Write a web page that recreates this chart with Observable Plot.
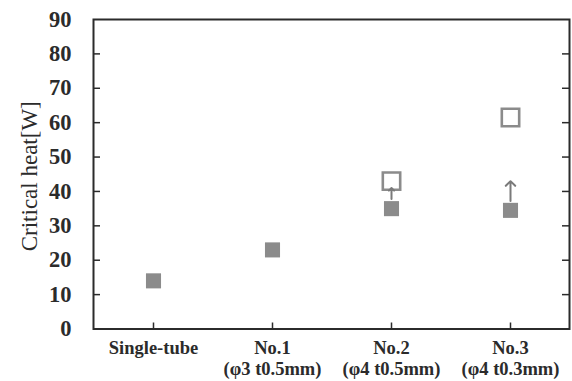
<!DOCTYPE html>
<html><head><meta charset="utf-8">
<script src="https://cdn.jsdelivr.net/npm/d3@7"></script>
<script src="https://cdn.jsdelivr.net/npm/@observablehq/plot@0.6"></script>
<style>body{margin:0;background:#fff}</style>
</head><body><div id="chart"></div>
<script>
const categories = ["Single-tube", "No.1", "No.2", "No.3"];
const categoryLabels = ["Single-tube", "No.1\n(φ3 t0.5mm)", "No.2\n(φ4 t0.5mm)", "No.3\n(φ4 t0.3mm)"];
const measuredCats = ["Single-tube", "No.1", "No.2", "No.3"];
const measuredVals = [14, 23, 35, 34.5];
const openCats = ["No.2", "No.3"];
const openVals = [43, 61.5];
const arrowCats = ["No.2", "No.3"];
const arrowFrom = [37.8, 37.2];
const arrowTo = [41, 43];
const yTicks = [0, 10, 20, 30, 40, 50, 60, 70, 80, 90];
const yTitle = ["Critical heat[W]"];

const W = 572, H = 381, mL = 93, mR = 3, mT = 19, mB = 52.5;
const pw = W - mL - mR, ph = H - mT - mB;
const gray = "#8b8b8b";
const dark = "#2b2b2b";

const measured = measuredCats.map((c, i) => ({c, v: measuredVals[i]}));
const open = openCats.map((c, i) => ({c, v: openVals[i]}));
const arrows = arrowCats.map((c, i) => ({c, a: arrowFrom[i], b: arrowTo[i]}));

const chart = Plot.plot({
  width: W, height: H,
  marginLeft: mL, marginRight: mR, marginTop: mT, marginBottom: mB,
  style: {fontFamily: "'Liberation Serif', serif", background: "#fff", color: dark},
  x: {type: "point", domain: categories, padding: 0.5},
  y: {domain: [0, 90]},
  marks: [
    Plot.axisY(yTicks, {tickSize: 0, tickPadding: 22, fontSize: 22.5, fontWeight: "bold", fill: dark, label: null}),
    Plot.text(yTitle, {text: d => d, frameAnchor: "left", textAnchor: "middle", rotate: -90, dx: -64, dy: 2, fontSize: 23, fill: dark}),
    Plot.axisX(categories, {tickSize: 0, tickPadding: 10, fontSize: 18.5, fontWeight: "bold", fill: dark,
      lineHeight: 1.15, label: null, tickFormat: (d) => categoryLabels[categories.indexOf(d)]}),
    Plot.tickY(yTicks.slice(1, -1), {y: d => d, stroke: dark, strokeWidth: 1.5, insetRight: pw - 7}),
    Plot.tickY(yTicks.slice(1, -1), {y: d => d, stroke: dark, strokeWidth: 1.5, insetLeft: pw - 7}),
    Plot.tickX(categories, {x: d => d, stroke: dark, strokeWidth: 1.5, insetTop: ph - 6}),
    Plot.frame({stroke: dark, strokeWidth: 2}),
    Plot.dot(measured, {x: "c", y: "v", symbol: "square", r: 8.5, fill: gray, stroke: "none"}),
    Plot.dot(open, {x: "c", y: "v", symbol: "square", r: 9.8, fill: "none", stroke: gray, strokeWidth: 2.6}),
    Plot.arrow(arrows, {x: "c", y1: "a", y2: "b", stroke: "#7a7a7a", strokeWidth: 2, headLength: 8, headAngle: 90})
  ]
});
document.getElementById("chart").append(chart);
</script>
</body></html>
